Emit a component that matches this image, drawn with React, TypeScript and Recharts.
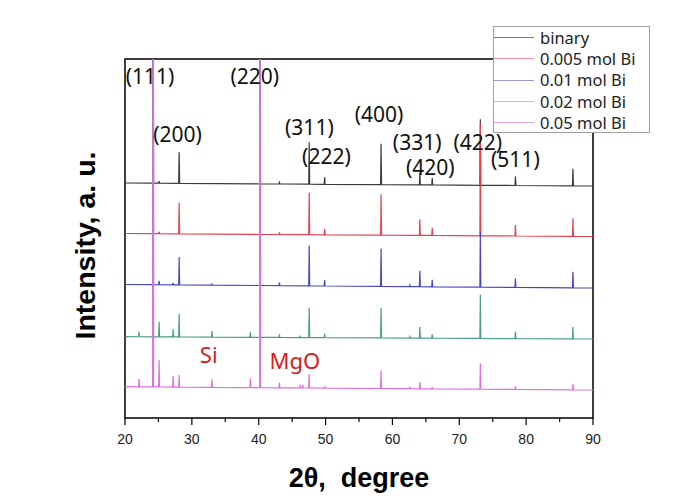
import React from "react";
import {
  LineChart,
  Line,
  XAxis,
  YAxis,
  ReferenceArea,
  ReferenceDot,
  Legend,
} from "recharts";

// series names and colours
const seriesNames = ["binary", "0.005 mol Bi", "0.01 mol Bi", "0.02 mol Bi", "0.05 mol Bi"];
const seriesColors = ["#3a3a3a", "#e8404e", "#4646c8", "#4c9c8c", "#e070e0"];
const legendColors = ["#7a7a7a", "#f0909a", "#9a9ad8", "#b0ccc6", "#e0a8dc"];

// baseline level (a.u.) at 2θ = 20 and 2θ = 90 for each pattern
const binaryBase = [235, 232];
const bi005Base = [184.5, 181.5];
const bi01Base = [133.5, 130];
const bi02Base = [81.3, 79];
const bi05Base = [31.3, 28];

// peaks: [2θ, height above baseline]; the tall ones run off the top of the frame
const binaryPeaks = [
  [24.2, 500], [25.1, 2], [28.1, 31], [40.2, 500], [43.1, 1.5], [47.55, 42],
  [49.86, 7], [58.3, 41], [64.1, 12], [65.95, 7], [73.15, 66], [78.4, 9], [87.0, 17],
];
const bi005Peaks = [
  [24.2, 500], [25.1, 2], [28.1, 31], [40.2, 500], [43.1, 2], [47.55, 42],
  [49.86, 6], [58.3, 41], [64.1, 16], [65.95, 8], [73.15, 112], [78.4, 11], [87.0, 18],
];
const bi01Peaks = [
  [24.2, 500], [25.1, 4], [27.2, 2], [28.1, 28], [33.0, 1], [40.2, 500], [43.1, 3],
  [47.55, 40], [49.86, 6], [58.3, 38], [62.6, 1.5], [64.1, 16], [65.95, 7],
  [73.15, 55], [78.4, 9], [87.0, 16],
];
const bi02Peaks = [
  [22.1, 5], [24.2, 500], [25.1, 15], [27.2, 8], [28.1, 23], [33.0, 6], [38.75, 5],
  [40.2, 500], [43.1, 3], [46.2, 2], [47.55, 30], [49.86, 4], [58.3, 30], [62.6, 1.5],
  [64.1, 11], [65.95, 4], [73.15, 44], [78.4, 7], [87.0, 12],
];
const bi05Peaks = [
  [22.1, 8], [24.2, 500], [25.1, 27], [27.2, 11], [28.1, 12], [33.0, 8], [38.75, 9],
  [40.2, 500], [43.1, 5], [46.2, 3], [46.6, 3], [47.55, 14], [49.86, 2], [58.3, 18],
  [62.6, 2], [64.1, 7], [65.95, 2], [73.15, 26], [78.4, 3], [87.0, 6],
];

// Miller indices and phase labels: [text, 2θ, a.u.]
const peakLabels: [string, number, number][] = [
  ["(111)", 23.75, 341], ["(220)", 39.41, 341], ["(200)", 27.87, 283],
  ["(311)", 47.58, 290], ["(222)", 50.13, 261], ["(400)", 58.0, 303],
  ["(331)", 63.7, 275], ["(420)", 65.65, 250], ["(422)", 72.77, 275],
  ["(511)", 78.39, 258],
];
const phaseLabels: [string, number, number][] = [
  ["Si", 32.52, 63],
  ["MgO", 45.41, 57],
];

const xTicks = [20, 25, 30, 35, 40, 45, 50, 55, 60, 65, 70, 75, 80, 85, 90];

const HALF = 0.07;

function buildPattern(base: number[], peaks: number[][]) {
  const at = (t: number) => base[0] + ((base[1] - base[0]) * (t - 20)) / 70;
  const pts: { x: number; y: number }[] = [{ x: 20, y: base[0] }];
  peaks.forEach(([t, h]) => {
    pts.push({ x: t - HALF, y: at(t - HALF) });
    pts.push({ x: t, y: at(t) + h });
    pts.push({ x: t + HALF, y: at(t + HALF) });
  });
  pts.push({ x: 90, y: base[1] });
  return pts;
}

const patterns = [
  buildPattern(binaryBase, binaryPeaks),
  buildPattern(bi005Base, bi005Peaks),
  buildPattern(bi01Base, bi01Peaks),
  buildPattern(bi02Base, bi02Peaks),
  buildPattern(bi05Base, bi05Peaks),
];

const labelFont = "'Noto Sans', 'DejaVu Sans', sans-serif";
const axisFont = "'Liberation Sans', Arial, sans-serif";

const XTick = (props: any) => {
  const { x, y, payload } = props;
  const major = payload.value % 10 === 0;
  return (
    <g>
      <line x1={x} x2={x} y1={y} y2={y + (major ? 7 : 4)} stroke="#000" strokeWidth={1.2} />
      {major && (
        <text x={x} y={y + 26} textAnchor="middle" fontSize={14} fontFamily={axisFont} fill="#222">
          {payload.value}
        </text>
      )}
    </g>
  );
};

const XTitle = (props: any) => {
  const vb = props.viewBox || { x: 125, y: 418, width: 468, height: 83 };
  return (
    <text
      x={vb.x + vb.width / 2}
      y={vb.y + 69}
      textAnchor="middle"
      fontSize={27}
      fontWeight="bold"
      fontFamily={axisFont}
      fill="#000"
      style={{ whiteSpace: "pre" }}
    >
      {"2θ,  degree"}
    </text>
  );
};

const YTitle = (props: any) => {
  const vb = props.viewBox || { x: 45, y: 59, width: 80, height: 359 };
  const cx = vb.x + 40;
  const cy = vb.y + vb.height / 2 + 7;
  return (
    <text
      x={cx}
      y={cy}
      transform={`rotate(-90, ${cx}, ${cy})`}
      textAnchor="middle"
      dominantBaseline="central"
      fontSize={28.5}
      fontWeight="bold"
      fontFamily={axisFont}
      fill="#000"
    >
      Intensity, a. u.
    </text>
  );
};

const LegendBox = () => (
  <div
    style={{
      border: "1px solid #a0a0a0",
      background: "#fff",
      width: 157,
      height: 107,
      boxSizing: "border-box",
    }}
  >
    {seriesNames.map((name, i) => (
      <div key={name} style={{ display: "flex", alignItems: "center", height: 21.3 }}>
        <span style={{ width: 40, height: 0, borderTop: `1px solid ${legendColors[i]}` }} />
        <span
          style={{
            marginLeft: 6,
            fontSize: 16.5,
            fontFamily: labelFont,
            color: "#222",
            lineHeight: "20px",
          }}
        >
          {name}
        </span>
      </div>
    ))}
  </div>
);

export default function App() {
  return (
    <div style={{ position: "absolute", left: 0, top: 0, width: 690, height: 501, background: "#fff" }}>
      <LineChart width={690} height={501} margin={{ top: 59, right: 97, bottom: 0, left: 45 }}>
        <XAxis
          type="number"
          dataKey="x"
          domain={[20, 90]}
          ticks={xTicks}
          interval={0}
          height={83}
          axisLine={false}
          tickLine={false}
          tickSize={0}
          tickMargin={0}
          tick={<XTick />}
          allowDataOverflow
          label={{ content: <XTitle /> }}
        />
        <YAxis
          type="number"
          dataKey="y"
          domain={[0, 359]}
          width={80}
          axisLine={false}
          tickLine={false}
          tick={false}
          allowDataOverflow
          label={{ content: <YTitle /> }}
        />
        <ReferenceArea x1={20} x2={90} y1={0} y2={359} fill="none" stroke="#000" strokeWidth={1.5} />
        {patterns.map((data, i) => (
          <Line
            key={seriesNames[i]}
            name={seriesNames[i]}
            data={data}
            dataKey="y"
            type="linear"
            stroke={seriesColors[i]}
            strokeWidth={1.2}
            dot={false}
            isAnimationActive={false}
          />
        ))}
        {peakLabels.map(([text, x, y]) => (
          <ReferenceDot
            key={text}
            x={x}
            y={y}
            r={0}
            fill="none"
            stroke="none"
            label={{ value: text, position: "center", fontSize: 21, fill: "#111", fontFamily: labelFont }}
          />
        ))}
        {phaseLabels.map(([text, x, y]) => (
          <ReferenceDot
            key={text}
            x={x}
            y={y}
            r={0}
            fill="none"
            stroke="none"
            label={{ value: text, position: "center", fontSize: 22, fill: "#d62020", fontFamily: labelFont }}
          />
        ))}
        <Legend
          layout="vertical"
          align="center"
          verticalAlign="middle"
          content={<LegendBox />}
          wrapperStyle={{ left: 493, top: 26, width: 157, height: 107 }}
        />
      </LineChart>
    </div>
  );
}
